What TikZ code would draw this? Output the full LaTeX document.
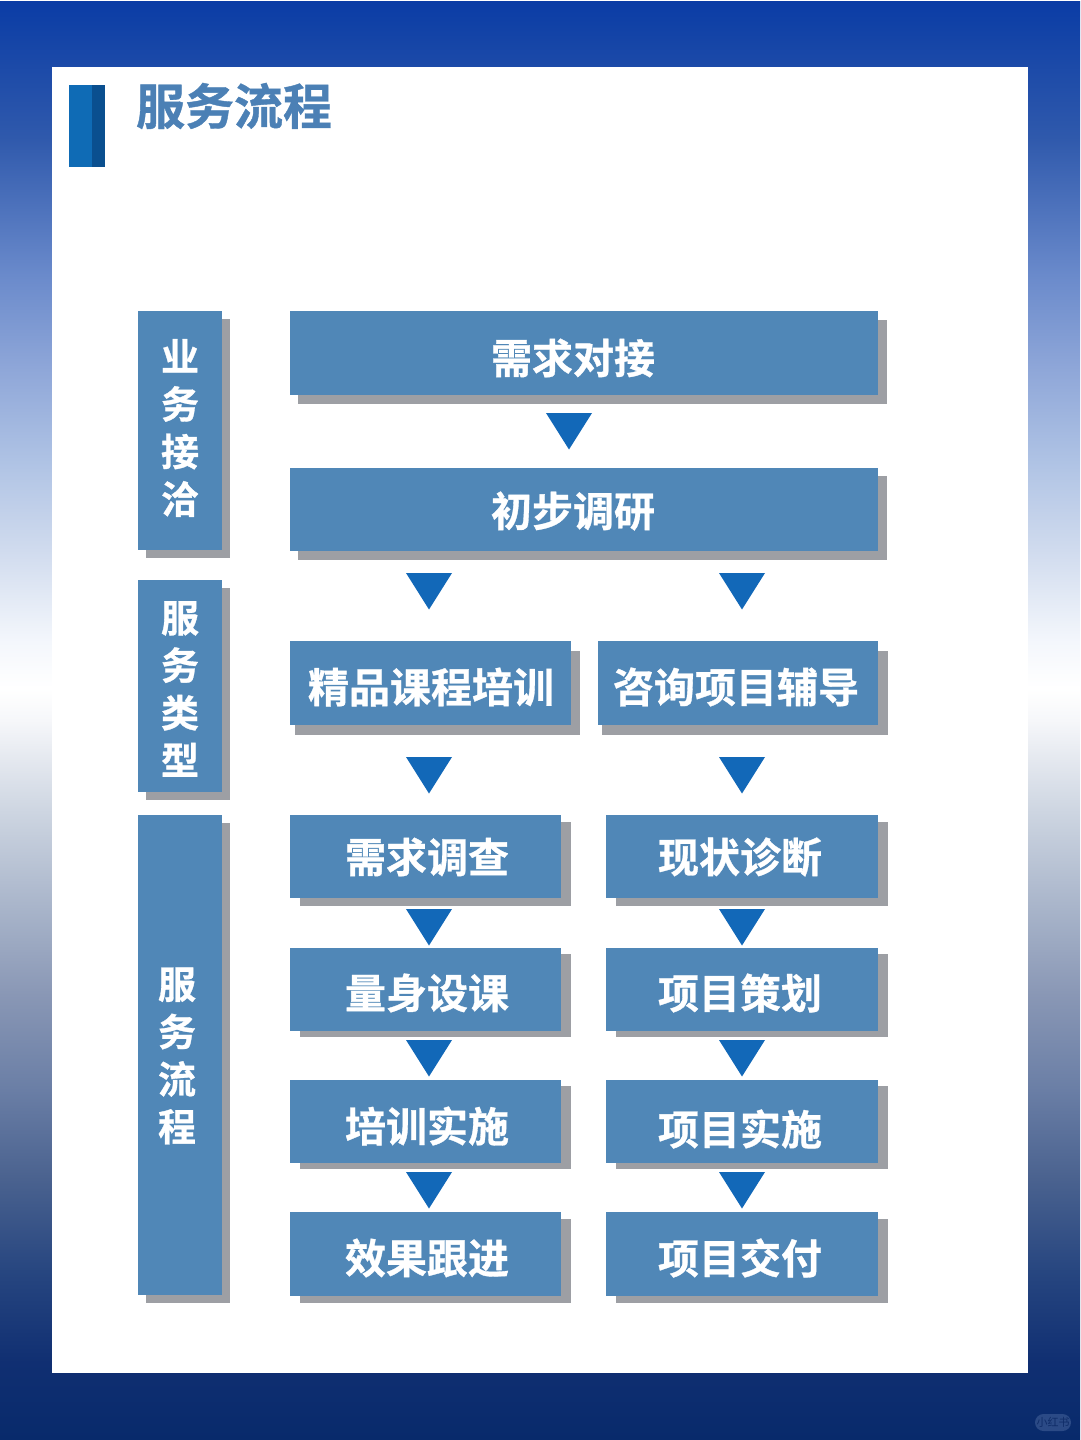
\documentclass[tikz,border=0pt]{standalone}
\usepackage{fontspec}
\newfontfamily\cjk{Noto Sans CJK SC}[BoldFont={Noto Sans CJK SC Bold},BoldFeatures={FakeBold=0.8}]
\usepackage{xcolor}
\definecolor{boxblue}{HTML}{5087B7}
\definecolor{shadowgray}{HTML}{9D9FA4}
\definecolor{tri}{HTML}{1268B8}
\definecolor{titleblue}{HTML}{4B80B5}
\definecolor{barA}{HTML}{0F6BB5}
\definecolor{barB}{HTML}{0A4F8F}
\definecolor{pill}{HTML}{2B4A86}
\definecolor{pilltext}{HTML}{0F2C68}
\definecolor{g0}{HTML}{082A6B}
\definecolor{g1}{HTML}{102F72}
\definecolor{g2}{HTML}{274680}
\definecolor{g3}{HTML}{4A628F}
\definecolor{g4}{HTML}{6B7FA6}
\definecolor{g5}{HTML}{8997B5}
\definecolor{g6}{HTML}{AAB6CB}
\definecolor{g7}{HTML}{CDD5E1}
\definecolor{g8}{HTML}{F6F7FA}
\definecolor{g9}{HTML}{FFFFFF}
\definecolor{g10}{HTML}{F4F7FC}
\definecolor{g11}{HTML}{D0DBEE}
\definecolor{g12}{HTML}{AEC2E4}
\definecolor{g13}{HTML}{8EA6D8}
\definecolor{g14}{HTML}{6A8ACB}
\definecolor{g15}{HTML}{2F59AC}
\definecolor{g16}{HTML}{0A3CA5}
\pgfdeclareverticalshading{pagebg}{1080pt}{
 color(0pt)=(g0);
 color(78pt)=(g1);
 color(169pt)=(g2);
 color(261pt)=(g3);
 color(353pt)=(g4);
 color(445pt)=(g5);
 color(537pt)=(g6);
 color(628pt)=(g7);
 color(720pt)=(g8);
 color(752pt)=(g9);
 color(798pt)=(g10);
 color(890pt)=(g11);
 color(981pt)=(g12);
 color(1073pt)=(g13);
 color(1165pt)=(g14);
 color(1303pt)=(g15);
 color(1440pt)=(g16)
}
\tikzset{
 x=1pt,y=-1pt,
 cardtext/.style={text=white,font=\cjk\bfseries\fontsize{41}{41}\selectfont,inner sep=0pt},
 sidetext/.style={text=white,font=\cjk\bfseries\fontsize{38}{47.5}\selectfont,inner sep=0pt,align=center},
 flowtri/.style={fill=tri},
 cardfill/.style={fill=boxblue},
 shadowfill/.style={fill=shadowgray},
}
% name, x1,y1,x2,y2 (card), sx1,sy1,sx2,sy2 (shadow)
\newcommand{\card}[9]{%
 \fill[shadowfill] (#6,#7) rectangle (#8,#9);
 \coordinate (#1) at ({(#2+#4)/2},{(#3+#5)/2});
 \fill[cardfill] (#2,#3) rectangle (#4,#5);
}
% name, centre x, top y
\newcommand{\flowarrow}[3]{%
 \coordinate (#1) at (#2,#3);
 \fill[flowtri] (#1) ++(-23,0) -- ++(46,0) -- ++(-23,36.5) -- cycle;
}
\begin{document}
\begin{tikzpicture}
\useasboundingbox (0,0) rectangle (1080,1440);
% page gradient
\node[inner sep=0pt,outer sep=0pt] (bg) at (540,720) {\pgfuseshading{pagebg}};
\fill[white] (52,67) rectangle (1028,1373);
% header
\fill[barA] (69,85) rectangle (92,167);
\fill[barB] (92,85) rectangle (105,167);
\node[text=titleblue,font=\cjk\bfseries\fontsize{49}{49}\selectfont,inner sep=0pt] (title) at (234,106) {服务流程};
% side cards
\card{sa}{138}{311}{222}{550}{146}{319}{230}{558}
\card{sb}{138}{580}{222}{792}{146}{588}{230}{800}
\card{sc}{138}{815}{222}{1295}{146}{823}{230}{1303}
\node[sidetext] (sat) at (180,428) {业\\务\\接\\洽};
\node[sidetext] (sbt) at (180,689) {服\\务\\类\\型};
\node[sidetext] (sct) at (177,1056) {服\\务\\流\\程};
% main cards
\card{n1}{290}{311}{878}{395}{298}{320}{887}{404}
\card{n2}{290}{468}{878}{551}{298}{476}{887}{560}
\card{l1}{290}{641}{571}{725}{295}{651}{580}{735}
\card{r1}{598}{641}{878}{725}{602}{651}{888}{735}
\card{l2}{290}{815}{561}{898}{300}{822}{571}{906}
\card{r2}{606}{815}{878}{898}{616}{822}{888}{906}
\card{l3}{290}{948}{561}{1031}{300}{954}{571}{1037}
\card{r3}{606}{948}{878}{1031}{616}{954}{888}{1037}
\card{l4}{290}{1080}{561}{1163}{300}{1086}{571}{1169}
\card{r4}{606}{1080}{878}{1163}{616}{1086}{888}{1169}
\card{l5}{290}{1212}{561}{1296}{300}{1219}{571}{1303}
\card{r5}{606}{1212}{878}{1296}{616}{1219}{888}{1303}
% card labels
\node[cardtext] (n1t) at (573,358) {需求对接};
\node[cardtext] (n2t) at (573,511) {初步调研};
\node[cardtext] (l1t) at (431,687) {精品课程培训};
\node[cardtext] (r1t) at (736,687) {咨询项目辅导};
\node[cardtext] (l2t) at (427,857) {需求调查};
\node[cardtext] (r2t) at (740,857) {现状诊断};
\node[cardtext] (l3t) at (427,993) {量身设课};
\node[cardtext] (r3t) at (740,993) {项目策划};
\node[cardtext] (l4t) at (427,1126) {培训实施};
\node[cardtext] (r4t) at (740,1129) {项目实施};
\node[cardtext] (l5t) at (427,1258) {效果跟进};
\node[cardtext] (r5t) at (740,1258) {项目交付};
% arrows
\flowarrow{a0}{569}{413}
\flowarrow{a1}{429}{573}
\flowarrow{a2}{742}{573}
\flowarrow{a3}{429}{757}
\flowarrow{a4}{742}{757}
\flowarrow{a5}{429}{909}
\flowarrow{a6}{742}{909}
\flowarrow{a7}{429}{1040}
\flowarrow{a8}{742}{1040}
\flowarrow{a9}{429}{1172}
\flowarrow{a10}{742}{1172}
% watermark
\fill[pill,rounded corners=8.5pt] (1035,1414) rectangle (1071,1431);
\node[text=pilltext,font=\cjk\fontsize{11}{11}\selectfont,inner sep=0pt] (wm) at (1053,1422.5) {小红书};
\end{tikzpicture}
\end{document}
